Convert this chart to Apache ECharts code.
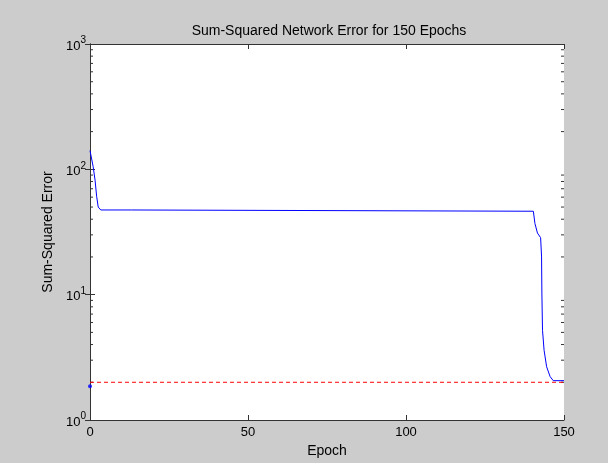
<!DOCTYPE html>
<html>
<head>
<meta charset="utf-8">
<script src="https://cdn.jsdelivr.net/npm/echarts@6/dist/echarts.min.js"></script>
<style>
html,body{margin:0;padding:0;background:#cccccc;}
#chart{width:608px;height:463px;}
</style>
</head>
<body>
<div id="chart"></div>
<script>
var epochs = [0, 0.5, 1, 1.6, 2.1, 2.6, 3.4, 13.2, 13.5, 140.3, 140.8, 141.6, 142.6, 142.9, 143.0, 143.2, 143.7, 144.5, 145.6, 146.6, 150];
var errors = [141, 139, 105, 82, 61, 50, 47.4, 47.4, 46.3, 46.3, 37, 31, 28.5, 20, 10.3, 5.2, 3.6, 2.66, 2.22, 2.06, 2.06];
var goalEpochs = [0, 150];
var goalValues = [2, 2];
var startPoint = [0, 1.86];
var xTicks = [0, 50, 100, 150];
var minorTickValues = [2,3,4,5,6,7,8,9,20,30,40,50,60,70,80,90,200,300,400,500,600,700,800,900];

var font = '"Liberation Sans", Arial, sans-serif';
var axisColor = '#333333';

var chart = echarts.init(document.getElementById('chart'));

function pairs(xs, ys){ return xs.map(function(x,i){ return [x, ys[i]]; }); }

var option = {
  backgroundColor: '#cccccc',
  animation: false,
  title: {
    text: 'Sum-Squared Network Error for 150 Epochs',
    left: 324, top: 19, textAlign: 'center',
    textStyle: {fontFamily: font, fontSize: 14, fontWeight: 'normal', color: '#000'}
  },
  grid: {left: 90, right: 44, top: 44, bottom: 43, containLabel: false, show: true, backgroundColor: '#ffffff', borderWidth: 0},
  xAxis: [{
    type: 'value', min: 0, max: 150, interval: 50, position: 'bottom',
    name: 'Epoch', nameLocation: 'middle', nameGap: 23,
    nameTextStyle: {fontFamily: font, fontSize: 14, color: '#000'},
    axisLine: {show: true, lineStyle: {color: axisColor, width: 1}},
    axisTick: {show: true, inside: true, length: 5, lineStyle: {color: axisColor}},
    axisLabel: {fontFamily: font, fontSize: 13, color: '#000', margin: 6},
    splitLine: {show: false}
  },{
    type: 'value', min: 0, max: 150, interval: 50, position: 'top',
    axisLine: {show: true, lineStyle: {color: axisColor, width: 1}},
    axisTick: {show: true, inside: true, length: 5, lineStyle: {color: axisColor}},
    axisLabel: {show: false},
    splitLine: {show: false}
  }],
  yAxis: [{
    type: 'log', logBase: 10, min: 1, max: 1000, interval: 1, position: 'left',
    name: 'Sum-Squared Error', nameLocation: 'middle', nameGap: 34,
    nameTextStyle: {fontFamily: font, fontSize: 14, color: '#000'},
    axisLine: {show: true, lineStyle: {color: axisColor, width: 1}},
    axisTick: {show: true, inside: true, length: 5, lineStyle: {color: axisColor}},
    axisLabel: {
      margin: 4,
      formatter: function(v){ return '{b|10}{s|' + Math.round(Math.log10(v)) + '}'; },
      rich: {
        b: {fontFamily: font, fontSize: 13, color: '#000', padding: [4,0,0,0]},
        s: {fontFamily: font, fontSize: 10, color: '#000', padding: [0,0,7,0]}
      }
    },
    splitLine: {show: false}
  },{
    type: 'log', logBase: 10, min: 1, max: 1000, interval: 1, position: 'right',
    axisLine: {show: true, lineStyle: {color: axisColor, width: 1}},
    axisTick: {show: true, inside: true, length: 5, lineStyle: {color: axisColor}},
    axisLabel: {show: false},
    splitLine: {show: false}
  }],
  series: [{
    type: 'line', data: pairs(epochs, errors), xAxisIndex: 0, yAxisIndex: 0,
    showSymbol: false, symbol: 'none',
    lineStyle: {color: '#0000ff', width: 1}, z: 3
  },{
    type: 'line', data: pairs(goalEpochs, goalValues), xAxisIndex: 0, yAxisIndex: 0,
    showSymbol: false, symbol: 'none',
    lineStyle: {color: '#ff0000', width: 1, type: [4,3]}, z: 2
  },{
    type: 'scatter', data: [startPoint], xAxisIndex: 0, yAxisIndex: 0,
    symbol: 'circle', symbolSize: 4, itemStyle: {color: '#0000ff'}, z: 4
  },{
    type: 'custom', xAxisIndex: 0, yAxisIndex: 0, clip: false, silent: true,
    data: minorTickValues.map(function(v){ return [0, v]; }),
    renderItem: function(params, api){
      var v = api.value(1);
      var pl = api.coord([0, v]);
      var pr = api.coord([150, v]);
      return {type: 'group', children: [
        {type: 'line', shape: {x1: pl[0], y1: pl[1], x2: pl[0] + 3, y2: pl[1]}, style: {stroke: axisColor, lineWidth: 1}},
        {type: 'line', shape: {x1: pr[0], y1: pr[1], x2: pr[0] - 3, y2: pr[1]}, style: {stroke: axisColor, lineWidth: 1}}
      ]};
    }
  }]
};
chart.setOption(option);
</script>
</body>
</html>
